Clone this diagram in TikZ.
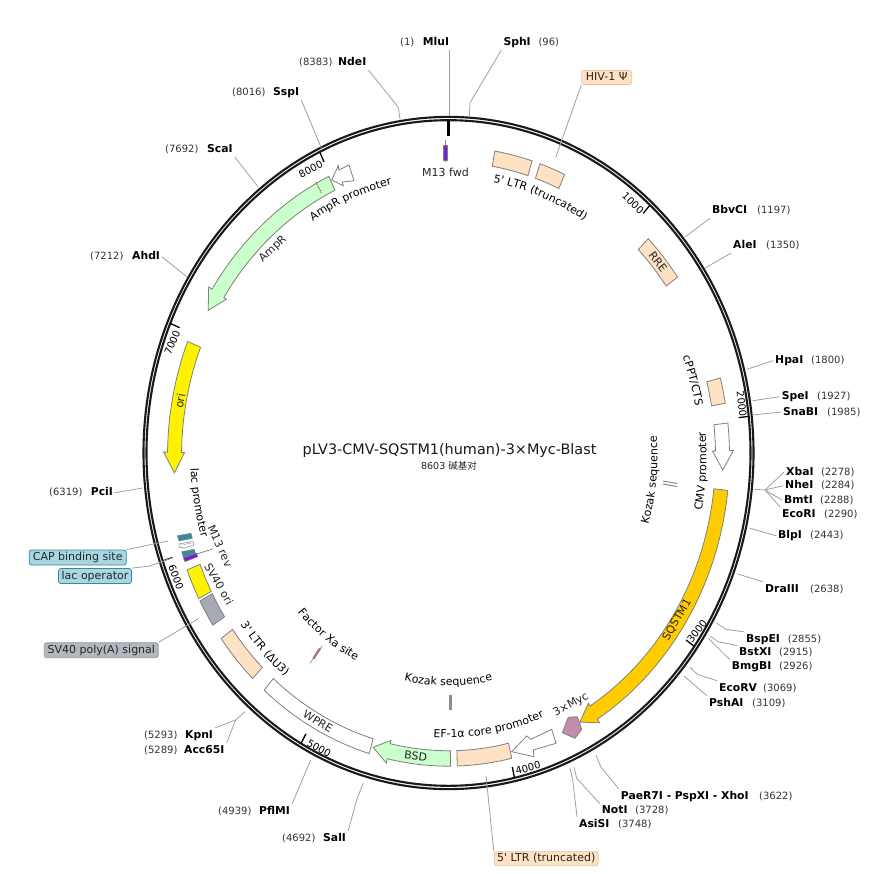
\documentclass[tikz,border=0pt]{standalone}
\usepackage{fontspec}
\setmainfont{DejaVu Sans}
\newfontfamily\cjkfont{Noto Sans CJK SC}
\newfontfamily\qfont{DejaVu Sans}
\newcommand\sq{{\qfont'}}
\usetikzlibrary{decorations.text}
\definecolor{peach}{HTML}{FFE1C3}
\definecolor{mint}{HTML}{CBFFCB}
\definecolor{orng}{HTML}{FFCC00}
\definecolor{greyf}{HTML}{A6AAB4}
\definecolor{teal1}{HTML}{3A8A9E}
\definecolor{bluef}{HTML}{A9D6E3}
\definecolor{pur}{HTML}{7D1FD0}
\definecolor{leadc}{HTML}{A0A0A0}
\definecolor{edgec}{HTML}{808080}
\definecolor{mycf}{HTML}{C48CAC}
\definecolor{fxaf}{HTML}{B07090}
\newcommand\flab{\fontsize{11}{13}\selectfont}
\tikzset{
  feat/.style={draw=edgec,line width=0.8pt,line join=miter},
  lead/.style={draw=leadc,line width=0.8pt},
  sn/.style={anchor=west,inner sep=2pt,text height=8pt,text depth=2pt,font=\fontsize{10.8}{12}\selectfont\bfseries,text=black},
  sc/.style={anchor=west,inner sep=2pt,text height=8pt,text depth=2pt,font=\fontsize{10}{12}\selectfont,text=black!80},
  flb/.style={font=\flab,inner sep=0pt,text=black!85},
  tk/.style={font=\fontsize{10}{12}\selectfont,inner sep=0pt,text=black},
  boxl/.style={font=\flab,rounded corners=2.5pt,inner sep=0pt,line width=0.8pt,text=black!85,text height=8.5pt,text depth=2.5pt},
}
% band between clockwise angles #2 and #3, measured from the top
\newcommand\band[3]{\draw[#1] ({90-#2}:281pt) arc[start angle={90-#2},end angle={90-#3},radius=281pt] -- ({90-#3}:267pt) arc[start angle={90-#3},end angle={90-#2},radius=267pt] -- cycle;}
% arrow: start #2, neck #3, tip #4
\newcommand\arrowband[4]{\draw[#1] ({90-#2}:281pt) arc[start angle={90-#2},end angle={90-#3},radius=281pt] -- ({90-#3}:285pt) -- ({90-#4}:274.5pt) -- ({90-#3}:264pt) -- ({90-#3}:267pt) arc[start angle={90-#3},end angle={90-#2},radius=267pt] -- cycle;}
% curved text: text, centre angle, baseline radius, half span (positive reads clockwise)
\newcommand\ctext[4]{\path[decorate,decoration={text along path,text align=center,text={|\flab|#1}}] ({90-#2+#4}:#3pt) arc[start angle={90-#2+#4},end angle={90-#2-#4},radius=#3pt];}
\newcommand\site[6]{\node[sn] (#1) at ({#2-2},-#4) {#5}; \node[sc] (#1n) at ({#3-2},-#4) {#6};}
\newcommand\ringp[3]{\coordinate (#1) at (#2,-#3);}
\begin{document}
\begin{tikzpicture}[x=1pt,y=1pt]
\useasboundingbox[fill=white] (0,0) rectangle (874,-874);

% backbone and ticks
\begin{scope}[shift={(448.5,-453)},yscale=1.102]
  \draw[line width=2.1pt,black!90] (0,0) circle[radius=305pt];
  \draw[line width=2.1pt,black!90] (0,0) circle[radius=302pt];
  \draw[line width=2.2pt,black] (90:302pt) -- (90:288pt);
  \foreach \k in {1000,2000,3000,4000,5000,6000,7000,8000}{
    \pgfmathsetmacro\ang{90-\k/8603*360}
    \draw[line width=1.3pt,black] (\ang:302pt) -- (\ang:292pt);
  }
\end{scope}
\node[tk,rotate=-44] (t1) at (633,-203) {1000};
\node[tk,rotate=-83] (t2) at (741.7,-404) {2000};
\node[tk,rotate=52] (t3) at (697,-631) {3000};
\node[tk,rotate=15] (t4) at (528,-768) {4000};
\node[tk,rotate=-29] (t5) at (319,-748) {5000};
\node[tk,rotate=-70] (t6) at (176,-577) {6000};
\node[tk,rotate=67] (t7) at (172.3,-342.7) {7000};
\node[tk,rotate=28] (t8) at (310.7,-169) {8000};

% features
\begin{scope}[shift={(448.5,-456.5)},yscale=1.102]
  \band{feat,fill=peach}{9.46}{17.3}
  \band{feat,fill=peach}{19.0}{24.4}
  \band{feat,fill=peach}{45.3}{54.6}
  \band{feat,fill=peach}{75.3}{80.1}
  \arrowband{feat,fill=white}{83.8}{88.9}{92.55}
  \arrowband{feat,fill=orng}{96.3}{148}{151.4}
  \band{feat,fill=peach}{167}{178.2}
  \arrowband{feat,fill=mint}{179.6}{192.6}{195.95}
  \band{feat,fill=white}{196.4}{221}
  \band{feat,fill=peach}{224.2}{234}
  \band{feat,fill=greyf}{237}{242.2}
  \band{feat,fill=yellow}{242.7}{248.5}
  \arrowband{feat,fill=yellow}{291.8}{270.8}{266.9}
  \arrowband{feat,fill=mint}{334.8}{302.7}{298.9}
  \ctext{5{\qfont'} LTR (truncated)}{21.2}{253}{17}
  \ctext{AmpR promoter}{337.4}{253}{14}
  \ctext{lac promoter}{260.5}{258}{-14}
  \ctext{3{\qfont'} LTR (ΔU3)}{226.4}{258}{-14}
  \ctext{EF-1α core promoter}{170.7}{255}{-17}
  \ctext{CMV promoter}{93}{258}{-14}
  \ctext{cPPT/CTS}{74.2}{251}{11}
  \ctext{Kozak sequence}{96}{209}{-19}
  \ctext{Kozak sequence}{180}{208}{-19}
  \ctext{Factor Xa site}{216.5}{207}{-18}
\end{scope}

% dotted division in AmpR
\coordinate (ampA) at (316,-182.3);
\coordinate (ampB) at (321.7,-193.3);
\draw[densely dotted,line width=0.8pt,black!80] (ampA) -- (ampB);

% short arrows and small features
\draw[feat,fill=white] (331.7,-180) -- (338.3,-165.7) -- (338.8,-170) -- (349,-165) -- (354,-180.7) -- (342.3,-182) -- (343.3,-185.7) -- cycle;
\draw[feat,fill=white] (511.7,-751.7) -- (526.7,-736) -- (531,-739.3) -- (551.7,-729.3) -- (556,-743.3) -- (533.3,-750) -- (534,-756.7) -- cycle;
\draw[feat,fill=mycf] (568.3,-717.3) -- (577.3,-716.7) -- (581.7,-729.3) -- (575,-738.3) -- (562.3,-732.7) -- cycle;

\coordinate (fwdA) at (445,-140);
\coordinate (fwdB) at (445,-162);
\draw[line width=0.6pt,edgec] (fwdA) -- (fwdB);
\draw[line width=0.5pt,edgec,fill=pur] (443.3,-145) rectangle (446.8,-160);

\coordinate (faA) at (310,-663.3);
\coordinate (faB) at (322.3,-645.7);
\draw[line width=0.6pt,edgec] (faA) -- (faB);
\draw[line width=2.4pt,fxaf] (313.5,-658.5) -- (320,-648.5);

\coordinate (kzA) at (450.7,-695);
\coordinate (kzB) at (450.7,-710);
\draw[line width=3pt,black!45] (kzA) -- (kzB);
\draw[line width=0.9pt,black!50] (663,-481) -- (677,-483.5);
\draw[line width=0.9pt,black!50] (663,-484) -- (677,-486.5);

% lac region
\draw[line width=0.5pt,edgec,fill=teal1] (177.3,-535.7) -- (191,-533.3) -- (192.3,-538.3) -- (179,-541) -- cycle;
\draw[line width=0.5pt,edgec,fill=white] (179,-544) -- (193,-541.5) -- (194,-545) -- (184,-548) -- (179,-547) -- cycle;
\draw[densely dotted,line width=0.6pt,black!60] (181,-545) -- (192,-543);
\draw[line width=0.5pt,edgec,fill=teal1] (181.7,-551.7) -- (194.3,-549.3) -- (195.7,-554.3) -- (183.3,-557.3) -- cycle;
\draw[line width=0.5pt,edgec,fill=pur] (183.3,-557.7) -- (196.7,-553.3) -- (197.7,-556.7) -- (185,-561.7) -- cycle;

% straight feature labels
\node[flb] (m13f) at (445.5,-172.7) {M13 fwd};
\node[flb,rotate=-52.6] (rre) at (658,-262) {RRE};
\node[flb,rotate=43] (amp) at (273,-249) {AmpR};
\node[flb,rotate=80] (ori) at (180,-401) {ori};
\node[flb,rotate=59.5] (sqs) at (677,-620) {SQSTM1};
\node[flb,rotate=29] (myc) at (571,-705) {3×Myc};
\node[flb,rotate=-7.6] (bsd) at (415.7,-755.7) {BSD};
\node[flb,rotate=-30.9] (wpre) at (318,-721.7) {WPRE};
\node[flb,rotate=-66] (m13r) at (220,-546) {M13 rev};
\node[flb,rotate=-60] (sv40) at (219,-584) {SV40 ori};

% centre title
\node[inner sep=0pt,font=\fontsize{14.4}{17}\selectfont,text=black!90] (title) at (449.5,-451) {pLV3-CMV-SQSTM1(human)-3×Myc-Blast};
\node[inner sep=0pt,font=\fontsize{9.5}{12}\selectfont,text=black!85] (sub) at (449,-466) {8603 {\cjkfont 碱基对}};

% restriction sites
\site{mlu}{422.7}{400}{43}{MluI}{(1)}
\site{sph}{503.3}{538.3}{43}{SphI}{(96)}
\site{nde}{338}{299}{63}{NdeI}{(8383)}
\site{ssp}{273}{232}{93}{SspI}{(8016)}
\site{sca}{207}{165}{150}{ScaI}{(7692)}
\site{ahd}{132}{90}{257}{AhdI}{(7212)}
\site{pci}{90.7}{49}{492.7}{PciI}{(6319)}
\site{kpn}{185}{144}{735}{KpnI}{(5293)}
\site{acc}{184}{144}{750}{Acc65I}{(5289)}
\site{pfl}{259}{218}{811}{PflMI}{(4939)}
\site{sal}{323}{282}{838}{SalI}{(4692)}
\site{asi}{579}{618}{824}{AsiSI}{(3748)}
\site{not}{601.7}{635}{810.7}{NotI}{(3728)}
\site{pae}{620.7}{759}{796}{PaeR7I - PspXI - XhoI}{(3622)}
\site{psh}{709}{752}{703}{PshAI}{(3109)}
\site{eco}{719}{763}{688}{EcoRV}{(3069)}
\site{bmg}{731.7}{779}{666.7}{BmgBI}{(2926)}
\site{bst}{739}{779}{652.7}{BstXI}{(2915)}
\site{bsp}{746}{787.7}{639}{BspEI}{(2855)}
\site{dra}{765}{810}{589}{DraIII}{(2638)}
\site{blp}{778}{810}{535.7}{BlpI}{(2443)}
\site{ecori}{782}{824}{514}{EcoRI}{(2290)}
\site{bmt}{784}{820}{500}{BmtI}{(2288)}
\site{nhe}{785}{821}{485.7}{NheI}{(2284)}
\site{xba}{786}{821}{472}{XbaI}{(2278)}
\site{sna}{783}{827}{412}{SnaBI}{(1985)}
\site{spe}{781.7}{817}{396.7}{SpeI}{(1927)}
\site{hpa}{775}{811}{360.7}{HpaI}{(1800)}
\site{bbv}{712}{757}{211}{BbvCI}{(1197)}
\site{ale}{733}{766}{246}{AleI}{(1350)}

% leaders
\ringp{rmlu}{449}{116}\draw[lead] (rmlu) -- (rmlu |- mlu.south);
\ringp{rsph}{469.3}{116}\ringp{esph}{470}{102.7}\draw[lead] (rsph) -- (esph) -- (sph.south west);
\ringp{rnde}{400}{119.3}\ringp{ende}{398.3}{107.3}\draw[lead] (rnde) -- (ende) -- (nde.south east);
\ringp{rssp}{321.5}{148.5}\draw[lead] (rssp) -- (ssp.south east);
\ringp{rsca}{258}{186.7}\draw[lead] (rsca) -- (sca.south east);
\ringp{rahd}{186.7}{276.7}\draw[lead] (rahd) -- (ahd.east);
\ringp{rpci}{143}{488}\draw[lead] (rpci) -- (pci.east);
\ringp{rkpn}{245}{711.7}\ringp{ekpn}{235.7}{720}\draw[lead] (rkpn) -- (ekpn) -- (kpn.north east);
\draw[lead] (ekpn) -- (acc.north east);
\ringp{rpfl}{310.7}{760}\draw[lead] (rpfl) -- (pfl.north east);
\ringp{rsal}{363.3}{782.7}\ringp{esal}{356.7}{800}\draw[lead] (rsal) -- (esal) -- (sal.north east);
\ringp{rasi}{570}{768.3}\ringp{easi}{572.7}{780}\draw[lead] (rasi) -- (easi) -- (asi.north west);
\ringp{rnot}{574}{767.3}\ringp{enot}{576.7}{778.3}\draw[lead] (rnot) -- (enot) -- (not.north west);
\ringp{rpae}{596}{755}\ringp{epae}{600.7}{766.7}\draw[lead] (rpae) -- (epae) -- (pae.north west);
\ringp{rpsh}{684}{676}\draw[lead] (rpsh) -- (psh.north west);
\ringp{reco}{690}{667.3}\ringp{eeco}{697.3}{674.3}\draw[lead] (reco) -- (eeco) -- (eco.north west);
\ringp{rbmg}{708.3}{638.3}\draw[lead] (rbmg) -- (bmg.north west);
\ringp{rbst}{710}{636}\ringp{ebst}{718}{641.7}\draw[lead] (rbst) -- (ebst) -- (bst.north west);
\ringp{rbsp}{716.7}{623.3}\ringp{ebsp}{726}{629.3}\draw[lead] (rbsp) -- (ebsp) -- (bsp.north west);
\ringp{rdra}{737.7}{574}\draw[lead] (rdra) -- (dra.north west);
\ringp{rblp}{750}{528.3}\draw[lead] (rblp) -- (blp.west);
\ringp{rcut}{755}{489.3}\ringp{ecut}{765}{490}\draw[lead] (rcut) -- (ecut) -- (xba.west);
\draw[lead] (ecut) -- (nhe.west);
\draw[lead] (ecut) -- (bmt.west);
\draw[lead] (ecut) -- (ecori.north west);
\ringp{rsna}{753}{415}\draw[lead] (rsna) -- (sna.west);
\ringp{rspe}{752.7}{400.7}\draw[lead] (rspe) -- (spe.west);
\ringp{rhpa}{746.7}{369.3}\draw[lead] (rhpa) -- (hpa.west);
\ringp{rbbv}{685}{237}\draw[lead] (rbbv) -- (bbv.south west);
\ringp{rale}{705}{268}\draw[lead] (rale) -- (ale.south west);

% callout boxes
\node[boxl,draw=peach!70!brown,fill=peach,minimum width=50pt,minimum height=14pt] (hiv) at (606.7,-77.5) {HIV-1 Ψ};
\node[boxl,draw=peach!70!brown,fill=peach,minimum width=104pt,minimum height=14pt] (ltr) at (546.2,-858.7) {5\sq{} LTR (truncated)};
\node[boxl,draw=teal1,fill=bluef,minimum width=97pt,minimum height=15pt] (cap) at (77.7,-557.5) {CAP binding site};
\node[boxl,draw=teal1,fill=bluef,minimum width=73pt,minimum height=15pt] (lacop) at (95,-576) {lac operator};
\node[boxl,draw=black!40,fill=greyf!85!white,minimum width=114pt,minimum height=15pt] (pa) at (101.3,-650.2) {SV40 poly(A) signal};

\ringp{fhiv}{555.7}{157.3}\draw[lead] (hiv.south west) -- (fhiv);
\ringp{fltr}{486}{775.7}\draw[lead] (ltr.north west) -- (fltr);
\ringp{fcap}{168.3}{541}\draw[lead] (cap.north east) -- (fcap);
\ringp{flac}{173.3}{557.3}\ringp{elac}{150}{566}\draw[lead] (lacop.north east) -- (elac) -- (flac);
\ringp{fpa}{199}{618.3}\draw[lead] (pa.north east) -- (fpa);
\ringp{fm13}{196.7}{554}\ringp{em13}{212.7}{549}\draw[line width=0.6pt,black!60] (fm13) -- (em13);
\end{tikzpicture}
\end{document}
